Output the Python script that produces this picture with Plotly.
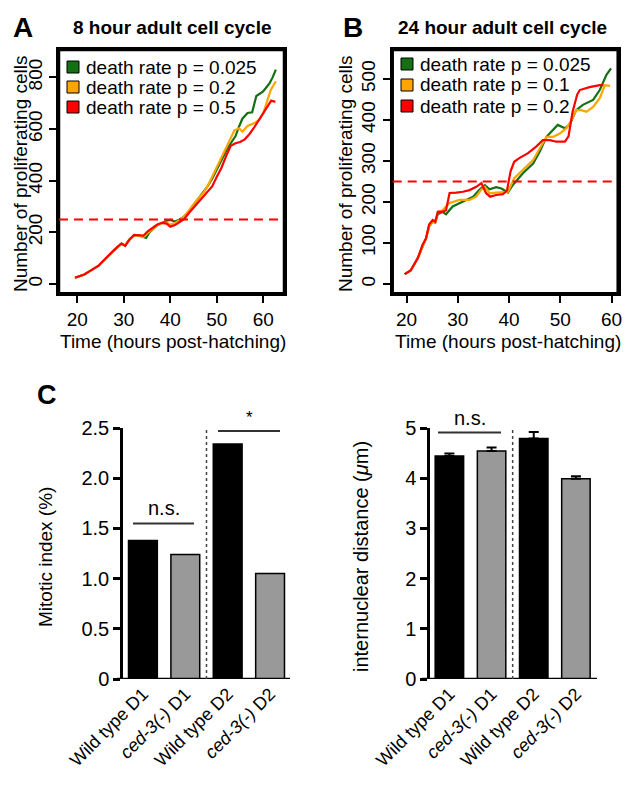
import plotly.graph_objects as go

W, H = 637, 786
FONT = "Liberation Sans, Arial, Helvetica, sans-serif"

# ---------------- Panel A data (8 hour adult cell cycle) ----------------
A_green_t = [19.5,20.5,21.5,22.5,23.5,24.5,25.5,26.5,27.5,28.5,29.5,30.3,31.2,32.2,33.2,34.2,34.8,35.5,36.2,37.2,
             38.2,39.2,40.0,41.0,42.0,43.0,44.0,45.0,46.0,47.0,48.0,49.0,50.0,51.0,52.0,53.0,54.0,54.8,55.5,56.6,
             57.6,58.5,59.9,60.5,61.4,62.0,62.7]
A_green_v = [24,30,37,48,60,70,88,106,122,140,155,150,172,188,188,180,178,200,212,228,
             236,245,248,242,250,262,282,305,328,352,378,408,445,482,515,545,572,610,640,662,
             665,728,745,758,779,800,830]
A_orange_t = [19.5,20.5,21.5,22.5,23.5,24.5,25.5,26.5,27.5,28.5,29.5,30.3,31.2,32.2,33.2,34.2,35.2,36.2,37.2,38.2,
              39.2,40.0,41.0,42.0,43.0,44.0,45.0,46.0,47.0,48.0,49.0,50.0,51.0,52.0,53.0,53.8,54.8,55.5,56.6,58.0,
              59.1,60.0,60.5,61.6,62.7]
A_orange_v = [24,30,37,48,60,70,88,106,122,140,155,150,172,188,188,182,198,215,228,235,
              238,230,236,248,262,285,310,332,350,378,415,452,490,530,565,595,603,590,612,622,
              635,662,690,751,785]
A_red_t = [19.5,20.5,21.5,22.5,23.5,24.5,25.5,26.5,27.5,28.5,29.5,30.3,31.2,32.2,33.2,34.2,35.2,36.2,37.2,38.2,
           39.2,40.0,41.0,42.0,43.0,44.0,45.0,46.0,47.0,48.0,49.0,50.0,51.0,52.0,53.0,54.0,55.0,56.0,57.0,58.0,
           59.0,60.0,61.0,61.7,62.6]
A_red_v = [24,30,37,48,60,70,88,108,125,142,157,147,172,190,188,187,205,218,230,237,
           234,222,228,240,252,275,295,318,335,355,378,415,450,495,535,545,550,560,580,605,
           633,660,688,710,705]
A_labels = ["death rate p = 0.025", "death rate p = 0.2", "death rate p = 0.5"]

# ---------------- Panel B data (24 hour adult cell cycle) ----------------
B_green_t = [19.7,20.8,22.2,23.1,23.8,24.4,25.1,25.6,26.1,27.0,27.7,29.0,31.0,33.0,34.2,35.3,36.2,37.5,38.5,39.8,
             40.7,42.7,44.7,46.0,47.3,48.6,49.5,50.9,51.8,53.1,54.4,56.4,57.7,59.0,59.9]
B_green_v = [24,33,63,91,111,140,152,150,170,176,170,189,201,213,230,241,231,236,233,223,
             241,270,294,323,359,376,388,380,388,424,437,449,473,510,526]
B_orange_t = [19.7,20.8,22.2,23.1,23.8,24.4,25.1,25.6,26.1,27.0,28.3,30.3,32.3,33.6,34.5,35.3,36.2,37.5,38.8,39.8,
              41.0,43.0,44.7,46.0,47.3,48.6,49.9,51.2,52.2,53.1,54.1,55.1,56.4,57.7,58.7,59.7]
B_orange_v = [24,33,63,91,111,140,152,150,176,180,197,205,205,213,229,237,221,223,225,225,
              258,282,302,331,359,359,367,380,400,424,424,420,432,453,485,483]
B_red_t = [19.6,20.8,22.2,23.1,23.8,24.4,25.1,25.6,26.1,27.0,27.7,28.4,29.7,31.0,32.3,33.6,34.6,35.5,36.3,37.5,
           38.8,39.6,40.3,41.0,42.0,43.7,45.3,46.6,48.0,49.2,50.9,51.6,52.4,53.3,53.8,55.7,57.7,58.4]
B_red_v = [24,33,63,95,111,145,156,152,176,176,180,222,223,225,229,237,246,222,213,217,
           219,228,275,298,307,319,335,351,351,347,347,360,420,462,473,480,485,485]
B_labels = ["death rate p = 0.025", "death rate p = 0.1", "death rate p = 0.2"]

THRESHOLD = 250

# ---------------- Panel C data ----------------
categories = ["Wild type D1", "<i>ced-3(-)</i> D1", "Wild type D2", "<i>ced-3(-)</i> D2"]
mitotic_index = [1.38, 1.24, 2.34, 1.05]
internuclear = [4.44, 4.54, 4.79, 3.99]
internuclear_err = [0.05, 0.07, 0.13, 0.05]
C_left_ticks = [0, 0.5, 1.0, 1.5, 2.0, 2.5]
C_left_ticktext = ["0", "0.5", "1.0", "1.5", "2.0", "2.5"]
C_right_ticks = [0, 1, 2, 3, 4, 5]
sig_left = [("n.s.", 1.55), ("*", 2.47)]
sig_right = [("n.s.", 4.91), ("****", 5.28)]

GREEN, ORANGE, RED = "#137013", "#ffa500", "#ff0000"
BAR_COLORS = ["#000000", "#999999", "#000000", "#999999"]

def px_x(p):
    return p / W

def px_y(p):
    return 1 - p / H

fig = go.Figure()

for xa, ya, series in [
    ("x", "y", [(A_green_t, A_green_v, GREEN), (A_orange_t, A_orange_v, ORANGE), (A_red_t, A_red_v, RED)]),
    ("x2", "y2", [(B_green_t, B_green_v, GREEN), (B_orange_t, B_orange_v, ORANGE), (B_red_t, B_red_v, RED)]),
]:
    for t, v, c in series:
        fig.add_trace(go.Scatter(x=t, y=v, mode="lines", line=dict(color=c, width=2.2),
                                 xaxis=xa, yaxis=ya, showlegend=False, hoverinfo="skip"))

fig.add_trace(go.Bar(x=categories, y=mitotic_index, width=0.68,
                     marker=dict(color=BAR_COLORS, line=dict(color="black", width=1.5)),
                     xaxis="x3", yaxis="y3", showlegend=False))
fig.add_trace(go.Bar(x=categories, y=internuclear, width=0.675,
                     marker=dict(color=BAR_COLORS, line=dict(color="black", width=1.5)),
                     error_y=dict(type="data", array=internuclear_err, arrayminus=[0]*4,
                                  symmetric=False, color="black", thickness=2, width=5),
                     xaxis="x4", yaxis="y4", showlegend=False))

box_axis = dict(showline=True, linecolor="black", linewidth=2.5, mirror=True, ticks="outside",
                ticklen=7, tickwidth=2, tickcolor="black", showgrid=False, zeroline=False,
                automargin=False, tickfont=dict(family=FONT, size=19, color="black"))

yA = [1 - 293.3 / H, 1 - 50 / H]
fig.update_layout(
    template="none",
    width=W, height=H, margin=dict(l=0, r=0, t=0, b=0, pad=0), autosize=False,
    paper_bgcolor="white", plot_bgcolor="white", showlegend=False,
    font=dict(family=FONT, color="black"),
    xaxis=dict(domain=[px_x(59), px_x(284)], range=[16.06, 64.45], tickvals=[20, 30, 40, 50, 60], anchor="y", **box_axis),
    yaxis=dict(domain=yA, range=[-36, 906], tickvals=[0, 200, 400, 600, 800], tickangle=-90, anchor="x", **box_axis),
    xaxis2=dict(domain=[px_x(392.7), px_x(617.7)], range=[17.3, 61.2], tickvals=[20, 30, 40, 50, 60], anchor="y2", **box_axis),
    yaxis2=dict(domain=yA, range=[-22.7, 570.7], tickvals=[0, 100, 200, 300, 400, 500], tickangle=-90, anchor="x2", **box_axis),
    xaxis3=dict(domain=[px_x(123), px_x(290)], range=[-0.47, 3.47], anchor="y3", showline=False,
                ticks="", tickangle=-45, showgrid=False, zeroline=False, automargin=False,
                tickfont=dict(family=FONT, size=18, color="black")),
    yaxis3=dict(domain=[px_y(679), px_y(428)], range=[0, 2.5], anchor="x3", showline=True, linecolor="black",
                linewidth=2.5, ticks="outside", ticklen=7, tickwidth=2.5, tickcolor="black",
                tickvals=C_left_ticks, ticktext=C_left_ticktext, showgrid=False, zeroline=False,
                automargin=False, tickfont=dict(family=FONT, size=20, color="black")),
    xaxis4=dict(domain=[px_x(430), px_x(597)], range=[-0.46, 3.5], anchor="y4", showline=False,
                ticks="", tickangle=-45, showgrid=False, zeroline=False, automargin=False,
                tickfont=dict(family=FONT, size=18, color="black")),
    yaxis4=dict(domain=[px_y(679), px_y(428)], range=[0, 5], anchor="x4", showline=True, linecolor="black",
                linewidth=2.5, ticks="outside", ticklen=7, tickwidth=2.5, tickcolor="black",
                tickvals=C_right_ticks, showgrid=False, zeroline=False,
                automargin=False, tickfont=dict(family=FONT, size=20, color="black")),
)

shapes = []
ann = []
for xr, yr in [("x domain", "y domain"), ("x2 domain", "y2 domain")]:
    shapes.append(dict(type="rect", xref=xr, yref=yr, x0=0, x1=1, y0=0, y1=1,
                       line=dict(color="black", width=2.5), fillcolor="rgba(0,0,0,0)", layer="above"))
for xr, yr in [("x domain", "y"), ("x2 domain", "y2")]:
    shapes.append(dict(type="line", xref=xr, yref=yr, x0=0, x1=1, y0=THRESHOLD, y1=THRESHOLD,
                       line=dict(color=RED, width=2, dash="9px,6px")))

def legend(x_sq, ys, labels, colors, x_txt):
    for yy, lab, col in zip(ys, labels, colors):
        shapes.append(dict(type="rect", xref="paper", yref="paper",
                           x0=px_x(x_sq), x1=px_x(x_sq + 12), y0=px_y(yy + 6), y1=px_y(yy - 6),
                           fillcolor=col, line=dict(color="black", width=1)))
        ann.append(dict(text=lab, x=px_x(x_txt), y=px_y(yy), xref="paper", yref="paper",
                        xanchor="left", yanchor="middle", showarrow=False,
                        font=dict(family=FONT, size=19, color="black")))

legend(67, [67, 87, 107], A_labels, [GREEN, ORANGE, RED], 84)
legend(401, [64, 85, 106], B_labels, [GREEN, ORANGE, RED], 418)

def text(t, x, y, size, bold=False, angle=0, anchor="center"):
    ann.append(dict(text=f"<b>{t}</b>" if bold else t, x=px_x(x), y=px_y(y), xref="paper", yref="paper",
                    xanchor=anchor, yanchor="middle", showarrow=False, textangle=angle,
                    font=dict(family=FONT, size=size, color="black")))

text("A", 23, 27, 28, bold=True)
text("B", 353, 27, 28, bold=True)
text("C", 47, 395, 27, bold=True)
text("8 hour adult cell cycle", 172, 27, 19, bold=True)
text("24 hour adult cell cycle", 502, 27, 19, bold=True)
text("Number of proliferating cells", 20, 174, 19, angle=-90)
text("Number of proliferating cells", 345, 174, 19, angle=-90)
text("Time (hours post-hatching)", 173, 342, 19)
text("Time (hours post-hatching)", 508, 342, 19)
text("Mitotic index (%)", 45, 557, 19, angle=-90)
text("internuclear distance (<i>μ</i>m)", 361, 557, 20, angle=-90)

for x0, x1, yr in [(117, 290, "y3"), (422, 597, "y4")]:
    shapes.append(dict(type="line", xref="paper", yref=yr, x0=px_x(x0), x1=px_x(x1), y0=0, y1=0,
                       line=dict(color="black", width=2.5)))
shapes.append(dict(type="line", xref="x3", yref="y3", x0=1.5, x1=1.5, y0=0, y1=2.5,
                   line=dict(color="#444444", width=1.5, dash="dot")))
shapes.append(dict(type="line", xref="x4", yref="y4", x0=1.5, x1=1.5, y0=0, y1=5.0,
                   line=dict(color="#444444", width=1.5, dash="dot")))

for (lab, yv), (x0, x1), yr in [
    (sig_left[0], (133, 194), "y3"), (sig_left[1], (218, 280), "y3"),
    (sig_right[0], (438, 501), "y4"), (sig_right[1], (525, 587), "y4"),
]:
    shapes.append(dict(type="line", xref="paper", yref=yr, x0=px_x(x0), x1=px_x(x1), y0=yv, y1=yv,
                       line=dict(color="#333333", width=2)))
    ann.append(dict(text=lab, x=px_x((x0 + x1) / 2), y=yv, xref="paper", yref=yr,
                    xanchor="center", yanchor="bottom", yshift=2, showarrow=False,
                    font=dict(family=FONT, size=20 if lab == "n.s." else 17, color="black")))

fig.update_layout(shapes=shapes, annotations=ann)
fig.write_html("out.html", config={"displayModeBar": False},
               post_script="document.body.style.margin='0';")
